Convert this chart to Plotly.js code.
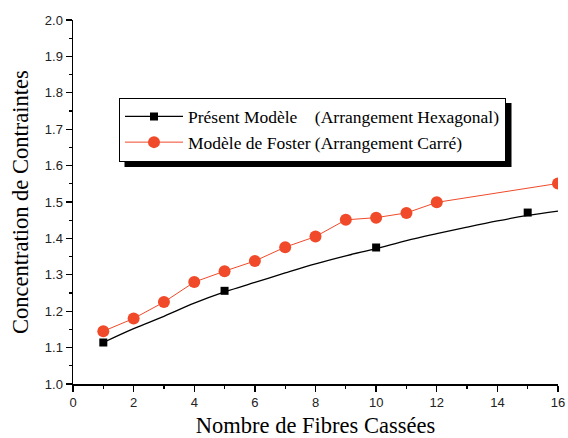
<!DOCTYPE html>
<html><head><meta charset="utf-8">
<script src="https://cdn.plot.ly/plotly-3.0.1.min.js"></script>
<style>html,body{margin:0;padding:0;background:#fff}</style>
</head><body>
<div id="chart" style="width:568px;height:438px"></div>
<script>
// Foster model (square arrangement)
const fosterX = [1, 2, 3, 4, 5, 6, 7, 8, 9, 10, 11, 12, 16];
const fosterY = [1.145, 1.18, 1.225, 1.28, 1.31, 1.338, 1.376, 1.405, 1.451, 1.457, 1.47, 1.499, 1.551];
// Present model (hexagonal) - curve
const hexLineX = [1, 2, 3, 4, 5, 6, 7, 8, 9, 10, 11, 12, 13, 14, 15, 16];
const hexLineY = [1.114, 1.152, 1.186, 1.222, 1.253, 1.279, 1.305, 1.33, 1.352, 1.372, 1.394, 1.413, 1.431, 1.448, 1.463, 1.475];
// Present model - markers
const hexPtX = [1, 5, 10, 15];
const hexPtY = [1.114, 1.256, 1.375, 1.471];

const nameHex = 'Présent Modèle\u00a0\u00a0\u00a0\u00a0(Arrangement Hexagonal)';
const nameFoster = 'Modèle de Foster (Arrangement Carré)';
const yTitle = 'Concentration de Contraintes';
const xTitle = 'Nombre de Fibres Cassées';

const traces = [
  {x: hexLineX, y: hexLineY, mode: 'lines', line: {color: '#000', width: 1.3, shape: 'spline'}, showlegend: false, hoverinfo: 'skip'},
  {x: hexPtX, y: hexPtY, mode: 'markers', marker: {symbol: 'square', size: 8, color: '#000'}, showlegend: false},
  {x: [null], y: [null], mode: 'lines+markers', name: nameHex, line: {color: '#000', width: 1.3}, marker: {symbol: 'square', size: 8, color: '#000'}},
  {x: fosterX, y: fosterY, mode: 'lines+markers', name: nameFoster, line: {color: '#F04A2A', width: 1}, marker: {symbol: 'circle', size: 12, color: '#F04A2A'}}
];

const tickFont = {family: 'Liberation Sans, Arial, sans-serif', size: 13, color: '#222'};
const titleFont = {family: 'Liberation Serif, Times New Roman, serif', size: 22.5, color: '#000'};

const layout = {
  width: 568, height: 438,
  margin: {l: 73, r: 10, t: 20, b: 54},
  paper_bgcolor: '#fff', plot_bgcolor: 'rgba(0,0,0,0)',
  showlegend: true,
  xaxis: {
    range: [0, 16], tickvals: [0,2,4,6,8,10,12,14,16], ticktext: ['0','2','4','6','8','10','12','14','16'],
    ticks: 'outside', ticklen: 6, tickwidth: 1.3, tickcolor: '#000',
    minor: {dtick: 1, ticks: 'outside', ticklen: 3, tickwidth: 1.3, tickcolor: '#000'},
    showline: true, linecolor: '#000', linewidth: 1.5, showgrid: false, zeroline: false,
    tickfont: tickFont,
    title: {text: xTitle, font: titleFont, standoff: 12}
  },
  yaxis: {
    range: [1.0, 2.0], dtick: 0.1, tickformat: '.1f',
    ticks: 'outside', ticklen: 6, tickwidth: 1.3, tickcolor: '#000',
    minor: {dtick: 0.05, ticks: 'outside', ticklen: 3, tickwidth: 1.3, tickcolor: '#000'},
    showline: true, linecolor: '#000', linewidth: 1.5, showgrid: false, zeroline: false,
    tickfont: tickFont
  },
  annotations: [
    {text: yTitle, xref: 'paper', yref: 'paper', x: (20 - 73) / 485, y: 0.5, xanchor: 'center', yanchor: 'middle',
     textangle: -90, showarrow: false, font: titleFont}
  ],
  legend: {
    x: (119 - 73) / 485, y: (384 - 129.5) / 364, xanchor: 'left', yanchor: 'middle',
    bgcolor: '#fff', bordercolor: '#000', borderwidth: 1,
    font: {family: 'Liberation Serif, Times New Roman, serif', size: 17.5, color: '#000'},
    itemwidth: 58, tracegroupgap: 0
  },
  shapes: [
    {type: 'rect', xref: 'paper', yref: 'paper', x0: (125-73)/485, x1: (508-73)/485, y0: (384-163)/364, y1: (384-102)/364, fillcolor: '#000', line: {width: 0}, layer: 'below'}
  ]
};

Plotly.newPlot('chart', traces, layout, {displayModeBar: false, staticPlot: true}).then(function(gd){
  // align the legend shadow to the rendered legend box
  const bg = gd.querySelector('.legend .bg');
  if (bg) {
    const r = bg.getBoundingClientRect();
    const c = gd.getBoundingClientRect();
    const L = r.left - c.left, T = r.top - c.top, R = r.right - c.left, B = r.bottom - c.top;
    const fs = gd._fullLayout._size;
    Plotly.relayout(gd, {
      'shapes[0].x0': (L + 5 - fs.l) / fs.w,
      'shapes[0].x1': (R + 6 - fs.l) / fs.w,
      'shapes[0].y1': 1 - (T + 5 - fs.t) / fs.h,
      'shapes[0].y0': 1 - (B + 6 - fs.t) / fs.h
    });
  }
});
</script>
</body></html>
